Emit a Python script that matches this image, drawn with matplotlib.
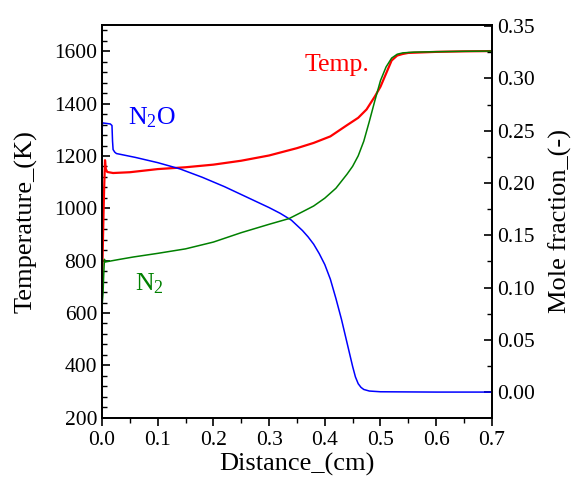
import matplotlib
matplotlib.use('Agg')
from matplotlib import pyplot as plt
from matplotlib.ticker import MultipleLocator

plt.rcParams['font.family'] = ['Liberation Serif', 'DejaVu Serif']
plt.rcParams['mathtext.default'] = 'regular'

# temperature (K) vs distance (cm)
temp_x = [0.0, 0.0005, 0.001, 0.002, 0.003, 0.004, 0.005, 0.0055, 0.007, 0.0095,
          0.02, 0.05, 0.1, 0.15, 0.2, 0.25, 0.3, 0.35, 0.38, 0.41,
          0.44, 0.46, 0.475, 0.49, 0.5, 0.51, 0.52, 0.53, 0.54, 0.55,
          0.6, 0.65, 0.7]
temp_y = [680, 740, 800, 900, 1000, 1080, 1150, 1184, 1150, 1139,
          1135, 1138, 1150, 1157, 1167, 1182, 1202, 1230, 1250, 1275,
          1318, 1346, 1378, 1428, 1465, 1515, 1565, 1584, 1590, 1594,
          1598, 1600, 1601]

# N2O mole fraction
n2o_x = [0.0, 0.001, 0.015, 0.018, 0.019, 0.020, 0.023, 0.026, 0.06, 0.1,
         0.14, 0.18, 0.22, 0.26, 0.3, 0.32, 0.34, 0.36, 0.37, 0.38, 0.39, 0.4,
         0.41, 0.42, 0.43, 0.44, 0.45, 0.455, 0.46, 0.465, 0.47, 0.48,
         0.5, 0.6, 0.7]
n2o_y = [0.247, 0.2575, 0.2565, 0.255, 0.240, 0.232, 0.2295, 0.2282, 0.2245, 0.2195,
         0.2135, 0.2055, 0.1965, 0.1865, 0.1765, 0.171, 0.1645, 0.1545, 0.1485, 0.1415, 0.1325, 0.122,
         0.108, 0.0895, 0.0695, 0.047, 0.0245, 0.0145, 0.008, 0.0045, 0.0025, 0.001,
         0.0003, 0.0, 0.0]

# N2 mole fraction
n2_x = [0.0, 0.001, 0.002, 0.003, 0.004, 0.0045, 0.0054, 0.03, 0.056, 0.1,
        0.15, 0.2, 0.25, 0.3, 0.336, 0.36, 0.38, 0.4, 0.42, 0.44,
        0.45, 0.46, 0.47, 0.48, 0.49, 0.5, 0.51, 0.52, 0.53, 0.54,
        0.56, 0.6, 0.65, 0.7]
n2_y = [0.081, 0.088, 0.095, 0.11, 0.122, 0.127, 0.1244, 0.1268, 0.1292, 0.1327,
        0.137, 0.1435, 0.1525, 0.1605, 0.166, 0.1725, 0.178, 0.1855, 0.195, 0.2085,
        0.216, 0.226, 0.24, 0.259, 0.279, 0.298, 0.311, 0.3195, 0.3232, 0.3245,
        0.3252, 0.3256, 0.326, 0.3262]


def draw():
    fig = plt.figure(figsize=(5.76, 4.84), dpi=100)
    ax = fig.add_axes([0.177, 0.137, 0.677, 0.811])
    ax2 = ax.twinx()

    ax.plot(temp_x, temp_y, '-', color='#ff0000', lw=1.6, zorder=3)
    ax2.plot(n2o_x, n2o_y, '-', color='#0000ff', lw=1.1)
    ax2.plot(n2_x, n2_y, '-', color='#008000', lw=1.1)

    ax.set_xlim(0, 0.7)
    ax.set_ylim(200, 1700)
    ax2.set_ylim(-0.0245, 0.351)

    ax.xaxis.set_major_locator(MultipleLocator(0.1))
    ax.xaxis.set_minor_locator(MultipleLocator(0.05))
    ax.yaxis.set_major_locator(MultipleLocator(200))
    ax.yaxis.set_minor_locator(MultipleLocator(40))
    ax2.yaxis.set_major_locator(MultipleLocator(0.05))
    ax2.yaxis.set_minor_locator(MultipleLocator(0.025))
    ax.set_xticks([0.0, 0.1, 0.2, 0.3, 0.4, 0.5, 0.6, 0.7])
    ax.set_xticklabels(['0.0', '0.1', '0.2', '0.3', '0.4', '0.5', '0.6', '0.7'])
    ax2.set_yticklabels(['%.2f' % v for v in ax2.get_yticks()])

    ax.tick_params(axis='x', which='major', direction='out', length=6, width=1.2, labelsize=15.5)
    ax.tick_params(axis='x', which='minor', direction='out', length=3.5, width=1.0)
    ax.tick_params(axis='y', which='major', direction='in', length=6, width=1.2, labelsize=15.5)
    ax.tick_params(axis='y', which='minor', direction='in', length=3.5, width=1.0)
    ax2.tick_params(axis='y', which='major', direction='in', length=6, width=1.2, labelsize=15.5)
    ax2.tick_params(axis='y', which='minor', direction='in', length=3.5, width=1.0)
    for a in (ax, ax2):
        for s in a.spines.values():
            s.set_linewidth(1.3)

    ax.set_xlabel('Distance_(cm)', fontsize=19, labelpad=2)
    ax.set_ylabel('Temperature_(K)', fontsize=19, labelpad=12)
    ax2.set_ylabel('Mole fraction_(-)', fontsize=19, labelpad=10)

    ax.text(0.0465, 1345, 'N$_2$O', color='#0000ff', fontsize=18.5, va='center', ha='left')
    ax.text(0.059, 713, 'N$_2$', color='#008000', fontsize=18.5, va='center', ha='left')
    ax.text(0.3634, 1547, 'Temp.', color='#ff0000', fontsize=18.5, va='center', ha='left')

    plt.savefig('out.png', dpi=100)


if __name__ == "__main__":
    draw()
